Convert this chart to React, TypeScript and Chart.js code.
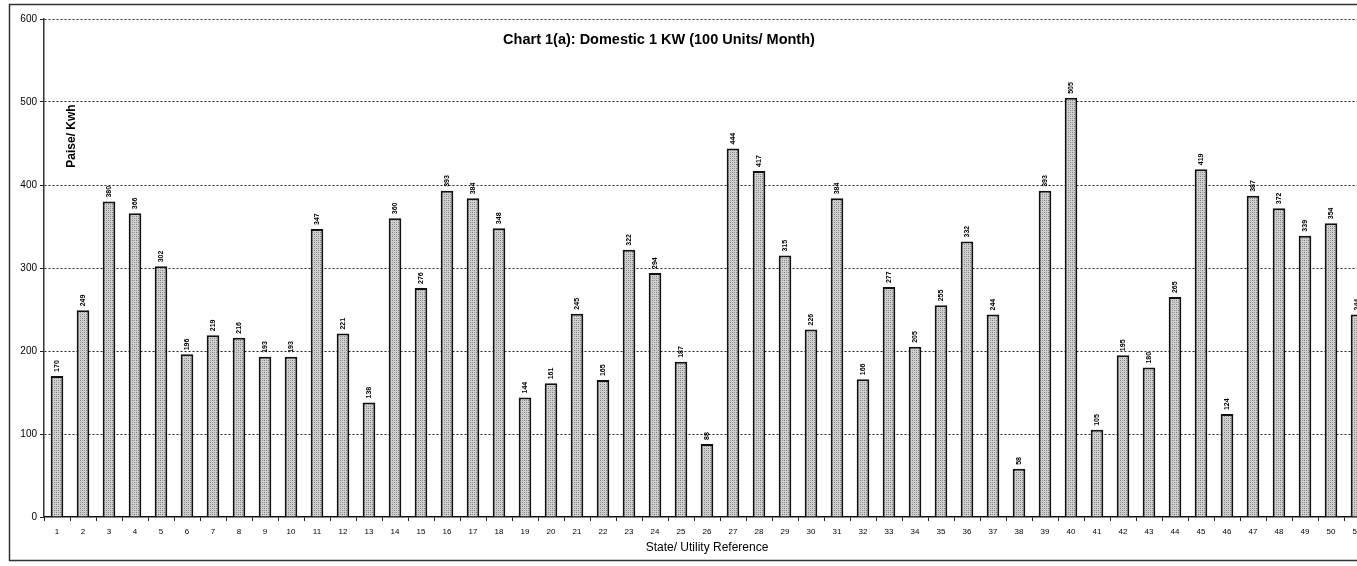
import React, { useEffect, useRef } from "react";
import { Chart, registerables } from "chart.js";

Chart.register(...registerables);

const categories: string[] = [
  "1","2","3","4","5","6","7","8","9","10","11","12","13","14","15","16","17",
  "18","19","20","21","22","23","24","25","26","27","28","29","30","31","32","33",
  "34","35","36","37","38","39","40","41","42","43","44","45","46","47","48","49","50","51",
];

const tariffValues: number[] = [
  170, 249, 380, 366, 302, 196, 219, 216, 193, 193, 347, 221, 138, 360, 276, 393, 384,
  348, 144, 161, 245, 165, 322, 294, 187, 88, 444, 417, 315, 226, 384, 166, 277,
  205, 255, 332, 244, 58, 393, 505, 105, 195, 180, 265, 419, 124, 387, 372, 339, 354, 244,
];

const yTicks: number[] = [0, 100, 200, 300, 400, 500, 600];

const chartTitle = "Chart 1(a): Domestic 1 KW (100 Units/ Month)";
const yTitle = "Paise/ Kwh";
const xTitle = "State/ Utility Reference";

function makePattern(): CanvasPattern | string {
  const c = document.createElement("canvas");
  c.width = 4;
  c.height = 4;
  const g = c.getContext("2d");
  if (!g) return "#bdbdbd";
  g.fillStyle = "#cfcfcf";
  g.fillRect(0, 0, 4, 4);
  g.fillStyle = "#7f7f7f";
  g.fillRect(0, 0, 1, 1);
  g.fillRect(2, 2, 1, 1);
  g.fillStyle = "#a0a0a0";
  g.fillRect(2, 0, 1, 1);
  g.fillRect(0, 2, 1, 1);
  const p = g.createPattern(c, "repeat");
  return p || "#bdbdbd";
}

const decorPlugin = {
  id: "decor",
  beforeDraw(chart: any) {
    const ctx = chart.ctx;
    ctx.save();
    ctx.strokeStyle = "#333";
    ctx.lineWidth = 1.5;
    ctx.beginPath();
    ctx.moveTo(1500, 4.5);
    ctx.lineTo(9.5, 4.5);
    ctx.lineTo(9.5, 560.5);
    ctx.lineTo(1500, 560.5);
    ctx.stroke();
    ctx.restore();
  },
  afterDraw(chart: any) {
    const ctx = chart.ctx;
    const area = chart.chartArea;
    ctx.save();
    ctx.fillStyle = "#000";
    ctx.font = "bold 14.5px Arial, 'Liberation Sans', sans-serif";
    ctx.textAlign = "center";
    ctx.textBaseline = "middle";
    ctx.fillText(chartTitle, 659, 40);

    ctx.translate(area.left + 28, 136);
    ctx.rotate(-Math.PI / 2);
    ctx.font = "bold 12px Arial, 'Liberation Sans', sans-serif";
    ctx.fillText(yTitle, 0, 0);
    ctx.restore();

    const meta = chart.getDatasetMeta(0);
    const data = chart.data.datasets[0].data as number[];
    ctx.save();
    ctx.fillStyle = "#000";
    ctx.font = "bold 7px Arial, 'Liberation Sans', sans-serif";
    ctx.textAlign = "left";
    ctx.textBaseline = "middle";
    meta.data.forEach((bar: any, i: number) => {
      ctx.save();
      ctx.translate(bar.x, bar.y - 4);
      ctx.rotate(-Math.PI / 2);
      ctx.fillText(String(data[i]), 0, 0);
      ctx.restore();
    });
    ctx.restore();
  },
};

export default function App() {
  const ref = useRef<HTMLCanvasElement | null>(null);

  useEffect(() => {
    if (!ref.current) return;
    const chart = new Chart(ref.current, {
      type: "bar",
      data: {
        labels: categories,
        datasets: [
          {
            data: tariffValues,
            backgroundColor: makePattern() as any,
            borderColor: "#111",
            borderWidth: 2,
            barPercentage: 0.9,
            categoryPercentage: 0.54,
          },
        ],
      },
      options: {
        responsive: false,
        animation: false,
        layout: { padding: { top: 19, left: 0, right: 0, bottom: 0 } },
        plugins: {
          legend: { display: false },
          tooltip: { enabled: false },
          title: { display: false },
        },
        scales: {
          x: {
            grid: {
              display: true,
              drawOnChartArea: false,
              drawTicks: true,
              tickLength: 4,
              color: "#222",
              offset: true,
            },
            border: { display: true, color: "#111", width: 1.5 },
            ticks: {
              color: "#000",
              font: { size: 8, family: "Arial, 'Liberation Sans', sans-serif" },
              maxRotation: 0,
              autoSkip: false,
              padding: 6,
            },
            title: {
              display: true,
              text: xTitle,
              color: "#000",
              font: { size: 12, family: "Arial, 'Liberation Sans', sans-serif" },
              padding: { top: 0, bottom: 11 },
            },
            afterFit(scale: any) {
              scale.height = 49;
            },
          },
          y: {
            min: 0,
            max: 600,
            afterBuildTicks(scale: any) {
              scale.ticks = yTicks.map((v) => ({ value: v }));
            },
            grid: {
              color: (c: any) => (c.tick && c.tick.value === 0 ? "rgba(0,0,0,0)" : "#222"),
              lineWidth: 1,
              drawTicks: true,
              tickLength: 4,
              tickColor: "#222",
              tickBorderDash: [],
            } as any,
            border: { display: true, color: "#333", width: 1.5, dash: [2, 2] } as any,
            ticks: {
              color: "#000",
              font: { size: 10, family: "Arial, 'Liberation Sans', sans-serif" },
              padding: 3,
            },
            afterFit(scale: any) {
              scale.width = 44;
            },
          },
        },
      },
      plugins: [decorPlugin],
    });
    return () => chart.destroy();
  }, []);

  return (
    <div
      style={{
        position: "absolute",
        left: 0,
        top: 0,
        width: 1357,
        height: 566,
        overflow: "hidden",
        background: "#fff",
      }}
    >
      <canvas ref={ref} width={1370} height={566} style={{ display: "block" }} />
    </div>
  );
}
